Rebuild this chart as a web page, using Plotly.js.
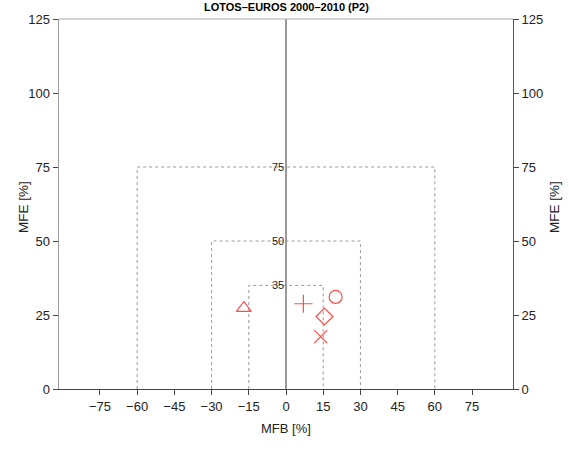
<!DOCTYPE html>
<html><head><meta charset="utf-8">
<script src="https://cdn.plot.ly/plotly-3.0.1.min.js"></script>
<style>html,body{margin:0;padding:0;background:#fff}</style>
</head><body>
<div id="chart" style="width:569px;height:450px"></div>
<script>
// Data
const runNames = ["R1", "R2", "R3", "R4", "R5"];
const mfb = [-17, 7, 20, 15.5, 14];
const mfe = [27.3, 28.8, 31.1, 24.5, 17.7];
const symbols = ["triangle-up-open", "cross-thin-open", "circle-open", "diamond-open", "x-thin-open"];
const goalMFE = [35, 50, 75];
const goalMFB = [15, 30, 60];
const xTicks = [-75, -60, -45, -30, -15, 0, 15, 30, 45, 60, 75];
const yTicks = [0, 25, 50, 75, 100, 125];

const traces = [];
goalMFE.forEach((L, i) => {
  const W = goalMFB[i];
  traces.push({
    x: [-W, -W, W, W], y: [0, L, L, 0], mode: 'lines', type: 'scatter',
    line: {color: '#999', width: 1, dash: 'dot'}, hoverinfo: 'skip', showlegend: false
  });
});
runNames.forEach((n, i) => {
  traces.push({
    x: [mfb[i]], y: [mfe[i]], mode: 'markers', type: 'scatter', name: n,
    marker: {symbol: symbols[i], size: 13, color: '#ff4d4d', line: {color: '#ff4d4d', width: 1.2}},
    showlegend: false
  });
});
traces.push({x: [0], y: [0], yaxis: 'y2', mode: 'markers', marker: {opacity: 0}, hoverinfo: 'skip', showlegend: false});

const ff = 'Liberation Sans, Arial, sans-serif';
const annotations = goalMFE.map(L => ({
  x: 0, y: L, xref: 'x', yref: 'y', text: String(L), showarrow: false,
  xanchor: 'right', yanchor: 'middle',
  font: {family: ff, size: 11, color: '#222'}
}));
annotations.push({
  x: 0.5, y: 1, xref: 'paper', yref: 'paper', yanchor: 'bottom', yshift: 4,
  text: '<b>LOTOS–EUROS 2000–2010 (P2)</b>', showarrow: false,
  font: {family: ff, size: 11, color: '#000'}
});
annotations.push({
  x: 0, y: 0.5, xref: 'paper', yref: 'paper', xanchor: 'center', yanchor: 'middle',
  xshift: -36, yshift: -3, textangle: -90, text: 'MFE [%]', showarrow: false,
  font: {family: ff, size: 13.5, color: '#222'}
});
annotations.push({
  x: 1, y: 0.5, xref: 'paper', yref: 'paper', xanchor: 'center', yanchor: 'middle',
  xshift: 41, yshift: -3, textangle: -90, text: 'MFE [%]', showarrow: false,
  font: {family: ff, size: 13.5, color: '#222'}
});
annotations.push({
  x: 0.5, y: 0, xref: 'paper', yref: 'paper', xanchor: 'center', yanchor: 'middle',
  yshift: -39, text: 'MFB [%]', showarrow: false,
  font: {family: ff, size: 13, color: '#222'}
});

const layout = {
  width: 569, height: 450,
  margin: {l: 59, r: 56, t: 19, b: 61},
  paper_bgcolor: '#fff', plot_bgcolor: '#fff',
  font: {family: ff, size: 13, color: '#222'},
  showlegend: false,
  xaxis: {
    range: [-91.5, 91.5], tickvals: xTicks, ticktext: xTicks.map(v => v < 0 ? '−' + Math.abs(v) : String(v)),
    ticks: 'outside', ticklen: 5, tickcolor: '#444', showgrid: false,
    zeroline: true, zerolinecolor: '#999', zerolinewidth: 1.5,
    showline: true, linecolor: '#444', linewidth: 1,
    tickfont: {size: 13}
  },
  yaxis: {
    range: [0, 125], tickvals: yTicks, ticks: 'outside', ticklen: 5, tickcolor: '#444',
    showgrid: false, zeroline: false, showline: true, linecolor: '#999', linewidth: 1.5,
    tickfont: {size: 13}
  },
  yaxis2: {
    range: [0, 125], tickvals: yTicks, ticks: 'outside', ticklen: 5, tickcolor: '#444',
    overlaying: 'y', side: 'right', showgrid: false, zeroline: false,
    showline: true, linecolor: '#555', linewidth: 1,
    tickfont: {size: 13}
  },
  shapes: [{type: 'line', xref: 'paper', yref: 'paper', x0: 0, x1: 1, y0: 1, y1: 1, line: {color: '#aaa', width: 1.2}}],
  annotations: annotations
};
Plotly.newPlot('chart', traces, layout, {displayModeBar: false, staticPlot: true});
</script>
</body></html>
